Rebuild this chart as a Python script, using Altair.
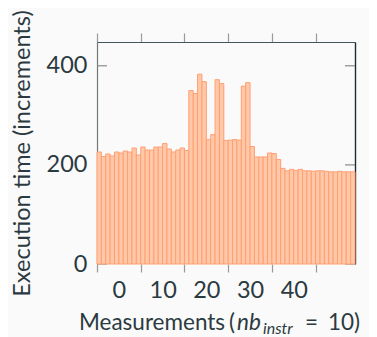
import altair as alt
import pandas as pd

# measurement index (left edge of each bar) and execution time values
starts = list(range(-5, 54))
values = [226, 217, 222, 218, 226, 224, 228, 226, 234, 220,
          236, 230, 230, 236, 236, 243, 232, 226, 230, 234,
          229, 350, 344, 383, 368, 251, 261, 372, 364, 249,
          250, 251, 250, 359, 366, 237, 216, 216, 216, 224,
          223, 211, 193, 188, 191, 189, 191, 188, 188, 187,
          188, 188, 187, 186, 186, 187, 186, 186, 186]
x_ticks = [-5, 5, 15, 25, 35, 45]
y_ticks = [0, 200, 400]

df = pd.DataFrame({"start": starts, "end": [s + 1 for s in starts], "value": values})
ticks_df = pd.DataFrame({"v": y_ticks})

W, H = 258, 222
FONT = "Lato"
FS = 23.5
TXT = "#2b3a40"

xscale = alt.Scale(domain=[-5, 54], nice=False, zero=False)
yscale = alt.Scale(domain=[0, 448], nice=False)

bars = alt.Chart(df).mark_bar(
    fill="#ffc9a9", stroke="#ff9f72", strokeWidth=1, opacity=1
).encode(
    x=alt.X("start:Q", scale=xscale, axis=alt.Axis(
        orient="bottom", values=x_ticks, tickSize=8, tickColor="#9a9a9a", tickWidth=1.2,
        domain=False, grid=False, labelFontSize=FS, labelFont=FONT, labelColor=TXT,
        labelPadding=6, labelOffset=21.9, labelFlush=False,
        labelExpr="datum.value < 40 ? format(datum.value + 5, 'd') : ''",
        title=None)),
    x2="end:Q",
    y=alt.Y("value:Q", scale=yscale, axis=alt.Axis(
        orient="left", values=y_ticks, ticks=False, domainColor="#6f777b", domainWidth=1.2,
        grid=False, labelFontSize=FS, labelFont=FONT, labelColor=TXT, labelPadding=10,
        title="Execution time (increments)", titleFontSize=FS, titleFont=FONT,
        titleFontWeight="normal", titleColor=TXT, titleX=-75, titleY=H / 2,
        titleAngle=-90, titleAlign="center", titleBaseline="middle")),
    y2=alt.datum(0),
)

mirror = alt.Chart(df).mark_bar(opacity=0).encode(
    x=alt.X("start:Q", scale=xscale, axis=alt.Axis(
        orient="top", values=x_ticks, tickSize=9, tickColor="#9a9a9a", tickWidth=1.2,
        labels=False, domainColor="#44545a", domainWidth=1.2, grid=False, title=None)),
    x2="end:Q",
    y=alt.Y("value:Q", scale=yscale, axis=alt.Axis(
        orient="right", values=y_ticks, ticks=False, labels=False,
        domainColor="#1f2b31", domainWidth=1.4, grid=False, title=None)),
    y2=alt.datum(0),
)

left_ticks = alt.Chart(ticks_df).mark_rule(color="#8a8a8a", strokeWidth=1.2).encode(
    y=alt.Y("v:Q", scale=yscale, axis=None), x=alt.value(0), x2=alt.value(10))
right_ticks = alt.Chart(ticks_df).mark_rule(color="#8a8a8a", strokeWidth=1.2).encode(
    y=alt.Y("v:Q", scale=yscale, axis=None), x=alt.value(W - 10), x2=alt.value(W))

one = pd.DataFrame({"k": [0]})
def txt(s, x, y, size=22.5, style="normal"):
    return alt.Chart(one).mark_text(
        text=s, align="left", baseline="alphabetic", fontSize=size, font=FONT,
        fontStyle=style, color=TXT
    ).encode(x=alt.value(x), y=alt.value(y))

title = (txt("Measurements", -18, 288) + txt("(", 132, 288)
         + txt("nb", 140, 288, style="italic")
         + txt("instr", 166, 292, size=16, style="italic")
         + txt("=", 208, 288) + txt("10)", 231, 288))

chart = alt.layer(left_ticks, right_ticks, bars, mirror, title).resolve_axis(
    x="independent", y="independent"
).properties(
    width=W, height=H,
    autosize=alt.AutoSizeParams(type="none"),
    padding={"left": 89, "top": 34, "right": 14, "bottom": 73},
    background="#fafafa",
).configure_view(stroke=None)

chart.save("out.html", embed_options={"renderer": "svg", "actions": False})
